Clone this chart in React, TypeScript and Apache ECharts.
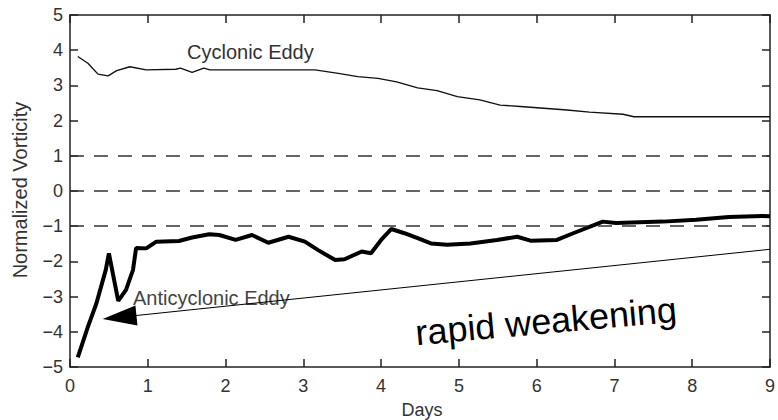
import React, { useEffect, useRef } from "react";
import * as echarts from "echarts";

const xTicks = [0, 1, 2, 3, 4, 5, 6, 7, 8, 9];
const yTicks = [-5, -4, -3, -2, -1, 0, 1, 2, 3, 4, 5];

const cycDays = [0.1, 0.23, 0.36, 0.49, 0.6, 0.77, 0.98, 1.36, 1.42, 1.57, 1.72, 1.8, 3.15, 3.45, 3.7, 3.96, 4.2, 4.47, 4.72, 4.98, 5.27, 5.53, 5.79, 6.22, 6.39, 6.68, 7.11, 7.25, 9.0];
const cycVals = [3.82, 3.63, 3.32, 3.27, 3.42, 3.53, 3.44, 3.46, 3.49, 3.37, 3.49, 3.44, 3.44, 3.34, 3.25, 3.2, 3.1, 2.93, 2.85, 2.68, 2.59, 2.44, 2.4, 2.33, 2.3, 2.24, 2.18, 2.11, 2.11];

const antiDays = [0.1, 0.23, 0.34, 0.46, 0.5, 0.62, 0.72, 0.81, 0.85, 0.98, 1.11, 1.4, 1.57, 1.79, 1.92, 2.13, 2.34, 2.55, 2.81, 3.02, 3.19, 3.41, 3.53, 3.75, 3.87, 4.0, 4.13, 4.3, 4.47, 4.64, 4.85, 5.15, 5.49, 5.75, 5.92, 6.26, 6.47, 6.85, 7.02, 7.62, 8.05, 8.47, 8.9, 9.0];
const antiVals = [-4.73, -3.86, -3.19, -2.24, -1.77, -3.12, -2.81, -2.24, -1.62, -1.63, -1.44, -1.42, -1.32, -1.23, -1.25, -1.39, -1.25, -1.47, -1.3, -1.44, -1.68, -1.96, -1.94, -1.72, -1.77, -1.39, -1.08, -1.2, -1.34, -1.49, -1.53, -1.49, -1.39, -1.3, -1.41, -1.39, -1.2, -0.87, -0.91, -0.87, -0.82, -0.74, -0.71, -0.72];

const refLevels = [1, 0, -1];
const arrowTail = [9, -1.656];
const arrowHead = [0.637, -3.587];

const FONT = "'Liberation Sans', Arial, Helvetica, sans-serif";

export default function App() {
  const ref = useRef<HTMLDivElement>(null);
  useEffect(() => {
    document.body.style.margin = "0";
    if (!ref.current) return;
    const chart = echarts.init(ref.current, null, { renderer: "svg" });
    const axisLine = { show: true, onZero: false, lineStyle: { color: "#222", width: 1.5 } };
    const axisTick = { show: true, inside: true, length: 8, lineStyle: { color: "#222", width: 1.5 } };
    const fmt = (v: number) => String(v).replace("-", "\u2212");
    chart.setOption({
      animation: false,
      backgroundColor: "#fff",
      textStyle: { fontFamily: FONT },
      grid: { left: 70, right: 2, top: 15, bottom: 53, containLabel: false },
      xAxis: [
        {
          type: "value", min: xTicks[0], max: xTicks[xTicks.length - 1], interval: 1, position: "bottom",
          axisLine, axisTick, splitLine: { show: false },
          axisLabel: { color: "#333", fontSize: 18, margin: 10, fontFamily: FONT },
        },
        {
          type: "value", min: xTicks[0], max: xTicks[xTicks.length - 1], interval: 1, position: "top",
          axisLine, axisTick, splitLine: { show: false }, axisLabel: { show: false },
        },
      ],
      yAxis: [
        {
          type: "value", min: yTicks[0], max: yTicks[yTicks.length - 1], interval: 1, position: "left",
          axisLine, axisTick, splitLine: { show: false },
          axisLabel: { color: "#333", fontSize: 18, margin: 7, formatter: fmt, fontFamily: FONT },
        },
        {
          type: "value", min: yTicks[0], max: yTicks[yTicks.length - 1], interval: 1, position: "right",
          axisLine, axisTick, splitLine: { show: false }, axisLabel: { show: false },
        },
      ],
      series: [
        {
          name: "Cyclonic Eddy",
          type: "line",
          data: cycDays.map((d, i) => [d, cycVals[i]]),
          showSymbol: false,
          symbol: "none",
          lineStyle: { color: "#111", width: 1.4 },
          markLine: {
            silent: true,
            symbol: ["none", "none"],
            label: { show: false },
            lineStyle: { color: "#333", width: 1.5, type: [14, 10] },
            data: refLevels.map((v) => ({ yAxis: v })),
          },
        },
        {
          name: "Anticyclonic Eddy",
          type: "line",
          data: antiDays.map((d, i) => [d, antiVals[i]]),
          showSymbol: false,
          symbol: "none",
          lineStyle: { color: "#000", width: 4 },
          markLine: {
            silent: true,
            symbol: ["none", "triangle"],
            symbolSize: [20, 34],
            label: { show: false },
            lineStyle: { color: "#000", width: 1, type: "solid" },
            itemStyle: { color: "#000" },
            data: [[{ coord: arrowTail }, { coord: arrowHead }]],
          },
        },
      ],
      graphic: [
        {
          type: "text", x: 20, y: 190, rotation: Math.PI / 2,
          style: { text: "Normalized Vorticity", fill: "#333", font: `20px ${FONT}`, textAlign: "center", textVerticalAlign: "middle" },
        },
        {
          type: "text", x: 422, y: 410,
          style: { text: "Days", fill: "#333", font: `18px ${FONT}`, textAlign: "center", textVerticalAlign: "middle" },
        },
        {
          type: "text", x: 187, y: 52,
          style: { text: "Cyclonic Eddy", fill: "#333", font: `20px ${FONT}`, textAlign: "left", textVerticalAlign: "middle" },
        },
        {
          type: "text", x: 133, y: 298,
          style: { text: "Anticyclonic Eddy", fill: "#444", font: `20px ${FONT}`, textAlign: "left", textVerticalAlign: "middle" },
        },
        {
          type: "text", x: 546, y: 321, rotation: 0.09,
          style: { text: "rapid weakening", fill: "#000", font: `36px ${FONT}`, textAlign: "center", textVerticalAlign: "middle" },
        },
      ],
    });
    return () => chart.dispose();
  }, []);
  return <div ref={ref} style={{ width: 778, height: 420 }} />;
}
